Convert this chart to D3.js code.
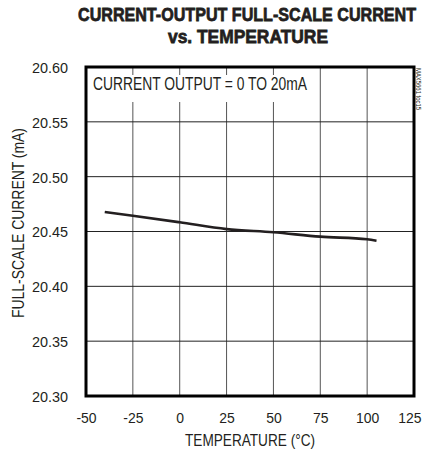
<!DOCTYPE html>
<html><head><meta charset="utf-8">
<script src="https://cdn.jsdelivr.net/npm/d3@7"></script>
<style>
body{margin:0;background:#fff;}
svg text{font-family:"Liberation Sans",Arial,sans-serif;fill:#231f20;}
</style></head>
<body><svg id="c" width="423" height="459"></svg>
<script>
const temps = [-40, -25, 0, 25, 50, 75, 100, 105];
const current = [20.4678, 20.4644, 20.4584, 20.4522, 20.4493, 20.4453, 20.4429, 20.4416];
const xTicks = [-50, -25, 0, 25, 50, 75, 100, 125];
const yTicks = [20.30, 20.35, 20.40, 20.45, 20.50, 20.55, 20.60];
const title1 = "CURRENT-OUTPUT FULL-SCALE CURRENT";
const title2 = "vs. TEMPERATURE";
const xLabel = "TEMPERATURE (°C)";
const yLabel = "FULL-SCALE CURRENT (mA)";
const note = "CURRENT OUTPUT = 0 TO 20mA";
const tag = "MAX5661 toc15";

const svg = d3.select("#c");
const L = 86, R = 414, T = 67, B = 396;
const x = d3.scaleLinear().domain([-50, 125]).range([L, R]);
const y = d3.scaleLinear().domain([20.30, 20.60]).range([B, T]);

function condense(sel, f) {
  sel.each(function () {
    const w = this.getComputedTextLength();
    d3.select(this).attr("textLength", w * f).attr("lengthAdjust", "spacingAndGlyphs");
  });
}

// grid
svg.append("g").selectAll("line").data(xTicks.slice(1, -1)).join("line")
  .attr("x1", d => x(d)).attr("x2", d => x(d)).attr("y1", T).attr("y2", B)
  .attr("stroke", "#555").attr("stroke-width", 1);
svg.append("g").selectAll("line").data(yTicks.slice(1, -1)).join("line")
  .attr("x1", L).attr("x2", R).attr("y1", d => y(d)).attr("y2", d => y(d))
  .attr("stroke", "#222").attr("stroke-width", 1);

// note box
svg.append("rect").attr("x", L + 2).attr("y", 75).attr("width", 222).attr("height", 27).attr("fill", "#fff");
svg.append("text").attr("x", 93).attr("y", 90).attr("font-size", 17.5).text(note)
  .attr("textLength", 214).attr("lengthAdjust", "spacingAndGlyphs");

// frame
svg.append("rect").attr("x", L).attr("y", T).attr("width", R - L).attr("height", B - T)
  .attr("fill", "none").attr("stroke", "#000").attr("stroke-width", 3);

// curve
svg.append("path").datum(temps.map((t, i) => [t, current[i]]))
  .attr("fill", "none").attr("stroke", "#231f20").attr("stroke-width", 2.6)
  .attr("d", d3.line().x(d => x(d[0])).y(d => y(d[1])).curve(d3.curveMonotoneX));

// axes labels
const xAxis = d3.axisBottom(x).tickValues(xTicks).tickSize(0).tickPadding(0)
  .tickFormat(d => d < 0 ? "-" + Math.abs(d) : String(d));
const gx = svg.append("g").attr("transform", `translate(0,${B})`).call(xAxis);
gx.select(".domain").remove();
gx.selectAll("text").attr("font-size", 15.5).attr("dy", null).attr("y", 27).attr("font-family", null);
gx.selectAll(".tick").filter(d => d === 125).select("text").attr("text-anchor", "end").attr("x", 7);
condense(gx.selectAll("text"), 0.9);

const yAxis = d3.axisLeft(y).tickValues(yTicks).tickSize(0).tickPadding(0).tickFormat(d3.format(".2f"));
const gy = svg.append("g").attr("transform", `translate(68,0)`).call(yAxis);
gy.select(".domain").remove();
gy.selectAll("text").attr("font-size", 15.5).attr("x", 0).attr("dy", "0.35em").attr("font-family", null);
condense(gy.selectAll("text"), 0.93);

// titles (small font stretched vertically to mimic a condensed heavy face)
svg.append("text").attr("transform", "translate(247,21) scale(1,1.27)").attr("text-anchor", "middle")
  .attr("font-size", 15).attr("font-weight", "bold").attr("stroke", "#231f20").attr("stroke-width", 0.6)
  .text(title1).attr("textLength", 338).attr("lengthAdjust", "spacingAndGlyphs");
svg.append("text").attr("transform", "translate(248,43) scale(1,1.27)").attr("text-anchor", "middle")
  .attr("font-size", 15).attr("font-weight", "bold").attr("stroke", "#231f20").attr("stroke-width", 0.6)
  .text(title2).attr("textLength", 160).attr("lengthAdjust", "spacingAndGlyphs");

const xl = svg.append("text").attr("x", 250).attr("y", 446).attr("text-anchor", "middle")
  .attr("font-size", 16).text(xLabel);
xl.attr("textLength", 130).attr("lengthAdjust", "spacingAndGlyphs");
const yl = svg.append("text").attr("transform", "translate(24,223) rotate(-90)").attr("text-anchor", "middle")
  .attr("font-size", 16).text(yLabel);
yl.attr("textLength", 190).attr("lengthAdjust", "spacingAndGlyphs");

svg.append("text").attr("transform", "translate(416,68) rotate(90)")
  .attr("font-size", 7).text(tag).attr("textLength", 42).attr("lengthAdjust", "spacingAndGlyphs");
</script></body></html>
